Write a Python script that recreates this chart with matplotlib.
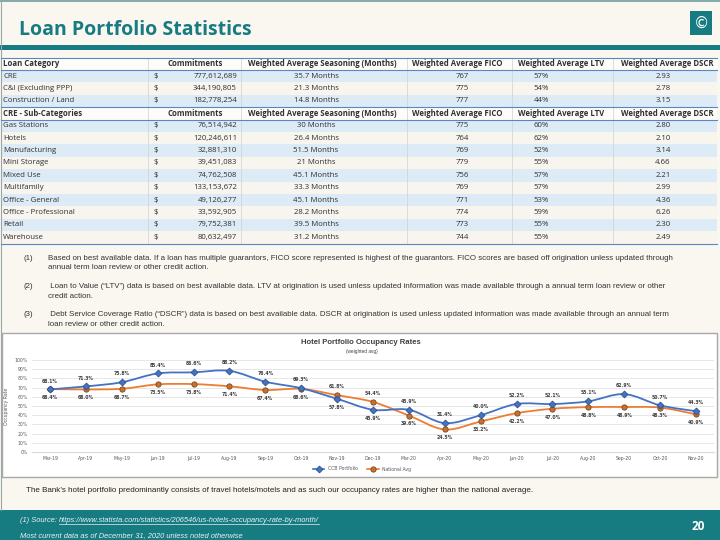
import matplotlib
matplotlib.use('Agg')
import numpy as np
import matplotlib.pyplot as plt
from matplotlib.patches import Rectangle, PathPatch
from matplotlib.lines import Line2D
from matplotlib.path import Path

# ---- table data ----
cat_header = ["Loan Category", "Commitments", "Weighted Average Seasoning (Months)",
              "Weighted Average FICO", "Weighted Average LTV", "Weighted Average DSCR"]
sub_header = ["CRE - Sub-Categories"] + cat_header[1:]

categories = ["CRE", "C&I (Excluding PPP)", "Construction / Land"]
cat_commit = [777612689, 344190805, 182778254]
cat_season = ["35.7 Months", "21.3 Months", "14.8 Months"]
cat_fico = [767, 775, 777]
cat_ltv = [57, 54, 44]
cat_dscr = [2.93, 2.78, 3.15]

subcats = ["Gas Stations", "Hotels", "Manufacturing", "Mini Storage", "Mixed Use",
           "Multifamily", "Office - General", "Office - Professional", "Retail", "Warehouse"]
sub_commit = [76514942, 120246611, 32881310, 39451083, 74762508,
              133153672, 49126277, 33592905, 79752381, 80632497]
sub_season = ["30 Months", "26.4 Months", "51.5 Months", "21 Months", "45.1 Months",
              "33.3 Months", "45.1 Months", "28.2 Months", "39.5 Months", "31.2 Months"]
sub_fico = [775, 764, 769, 779, 756, 769, 771, 774, 773, 744]
sub_ltv = [60, 62, 52, 55, 57, 57, 53, 59, 55, 55]
sub_dscr = [2.80, 2.10, 3.14, 4.66, 2.21, 2.99, 4.36, 6.26, 2.30, 2.49]

# ---- chart data ----
months = ["Mar-19", "Apr-19", "May-19", "Jun-19", "Jul-19", "Aug-19", "Sep-19", "Oct-19",
          "Nov-19", "Dec-19", "Mar-20", "Apr-20", "May-20", "Jun-20", "Jul-20", "Aug-20",
          "Sep-20", "Oct-20", "Nov-20"]
ccb = [68.1, 71.3, 75.8, 85.4, 86.6, 88.2, 76.4, 69.3, 57.8, 45.9, 45.9, 31.4, 40.0,
       52.2, 52.1, 55.1, 62.9, 50.7, 44.3]
national = [68.4, 68.0, 68.7, 73.5, 73.8, 71.4, 67.4, 68.6, 61.8, 54.4, 39.6, 24.5, 33.2,
            42.2, 47.0, 48.8, 48.9, 48.3, 40.9]

footnotes = [
    ("(1)", "Based on best available data. If a loan has multiple guarantors, FICO score represented is highest of the guarantors. FICO scores are based off origination unless updated through",
     "annual term loan review or other credit action."),
    ("(2)", " Loan to Value (\u201cLTV\u201d) data is based on best available data. LTV at origination is used unless updated information was made available through a annual term loan review or other",
     "credit action."),
    ("(3)", " Debt Service Coverage Ratio (\u201cDSCR\u201d) data is based on best available data. DSCR at origination is used unless updated information was made available through an annual term",
     "loan review or other credit action."),
]

TEAL = '#177B82'
BG = '#FAF7F1'
W, H = 720.0, 540.0


def fx(x):
    return x / W


def fy(y):
    return 1 - y / H


def rect(fig, x0, y0, x1, y1, **kw):
    fig.add_artist(Rectangle((fx(x0), fy(y1)), (x1 - x0) / W, (y1 - y0) / H,
                             transform=fig.transFigure, **kw))


def hline(fig, x0, x1, y, **kw):
    fig.add_artist(Line2D([fx(x0), fx(x1)], [fy(y), fy(y)], transform=fig.transFigure, **kw))


def vline(fig, x, y0, y1, **kw):
    fig.add_artist(Line2D([fx(x), fx(x)], [fy(y0), fy(y1)], transform=fig.transFigure, **kw))


def smooth_path(xs, ys):
    # Excel-style smoothed line: cubic bezier segments through the points
    pts = np.column_stack([xs, ys]).astype(float)
    n = len(pts)
    verts = [pts[0]]
    codes = [Path.MOVETO]
    for i in range(n - 1):
        p0 = pts[max(i - 1, 0)]
        p1 = pts[i]
        p2 = pts[i + 1]
        p3 = pts[min(i + 2, n - 1)]
        c1 = p1 + (p2 - p0) / 6.0
        c2 = p2 - (p3 - p1) / 6.0
        verts += [c1, c2, p2]
        codes += [Path.CURVE4] * 3
    return Path(verts, codes)


fig = plt.figure(figsize=(7.2, 5.4), dpi=100)
fig.patch.set_facecolor(BG)

# header
hline(fig, 0, 720, 0.5, color='#6E9C9E', lw=1.2)
vline(fig, 0.6, 0, 510, color='#9AA7A7', lw=0.8)
fig.text(fx(19), fy(30), "Loan Portfolio Statistics", fontsize=14, fontweight='bold',
         color=TEAL, family='Open Sans', va='center', ha='left')
rect(fig, 690, 11, 712, 35, facecolor=TEAL, edgecolor='none')
fig.text(fx(701), fy(23), "\u00a9", fontsize=11, color='white', ha='center', va='center')
rect(fig, 0, 45, 720, 50, facecolor=TEAL, edgecolor='none')

# ---- table ----
top, rh = 57.5, 12.4
tfont = dict(family='Open Sans', fontsize=5.6, color='#303030')
val_x = [3, 237, 316, 462, 541, 663]
head_x = [3, 195, 322, 457, 561, 667]
seps = [148, 241, 407, 512, 613]
rows = [("head", cat_header)]
for i in range(len(categories)):
    rows.append(("data", [categories[i], cat_commit[i], cat_season[i], cat_fico[i], cat_ltv[i], cat_dscr[i]]))
rows.append(("head", sub_header))
for i in range(len(subcats)):
    rows.append(("data", [subcats[i], sub_commit[i], sub_season[i], sub_fico[i], sub_ltv[i], sub_dscr[i]]))

k = 0
for r, (kind, vals) in enumerate(rows):
    y0 = top + r * rh
    yc = y0 + rh / 2
    if kind == "head":
        rect(fig, 1, y0, 717, y0 + rh, facecolor='#FDFCF9', edgecolor='none')
        fig.text(fx(head_x[0]), fy(yc), vals[0], ha='left', va='center', fontweight='bold', **tfont)
        for j in range(1, 6):
            fig.text(fx(head_x[j]), fy(yc), vals[j], ha='center', va='center', fontweight='bold', **tfont)
        k = 0
    else:
        rect(fig, 1, y0, 717, y0 + rh, facecolor='#DDEBF7' if k % 2 == 0 else '#F8F5EF', edgecolor='none')
        k += 1
        fig.text(fx(val_x[0]), fy(yc), vals[0], ha='left', va='center', **tfont)
        fig.text(fx(153), fy(yc), "$", ha='left', va='center', **tfont)
        fig.text(fx(val_x[1]), fy(yc), f"{vals[1]:,}", ha='right', va='center', **tfont)
        fig.text(fx(val_x[2]), fy(yc), vals[2], ha='center', va='center', **tfont)
        fig.text(fx(val_x[3]), fy(yc), str(vals[3]), ha='center', va='center', **tfont)
        fig.text(fx(val_x[4]), fy(yc), f"{vals[4]}%", ha='center', va='center', **tfont)
        fig.text(fx(val_x[5]), fy(yc), f"{vals[5]:.2f}", ha='center', va='center', **tfont)

nrows = len(rows)
for s in seps:
    vline(fig, s, top, top + nrows * rh, color='#D0D0D0', lw=0.5)
for r in [0, 1, 4, 5, nrows]:
    hline(fig, 1, 717, top + r * rh, color='#5B87C0', lw=0.8)

# ---- footnotes ----
ffont = dict(family='Liberation Sans', fontsize=5.7, color='#333333')
for n, (num, l1, l2) in enumerate(footnotes):
    y = 258 + n * 28
    fig.text(fx(23), fy(y), num, ha='left', va='center', **ffont)
    fig.text(fx(48), fy(y), l1, ha='left', va='center', **ffont)
    fig.text(fx(48), fy(y + 10), l2, ha='left', va='center', **ffont)

# ---- chart ----
rect(fig, 1.5, 333, 717, 477, facecolor='white', edgecolor='#A8A8A8', lw=1.0, zorder=-1)
ax = fig.add_axes([fx(32), fy(452), (714 - 32) / W, (452 - 360) / H])
ax.set_zorder(5)
ax.set_facecolor('none')
x = np.arange(len(months))
blue, orange = '#4472C4', '#ED7D31'
ax.add_patch(PathPatch(smooth_path(x, ccb), fill=False, edgecolor=blue, lw=1.3, zorder=4))
ax.add_patch(PathPatch(smooth_path(x, national), fill=False, edgecolor=orange, lw=1.3, zorder=3))
ax.plot(x, ccb, ls='none', marker='D', ms=3.5, mfc=blue, mec='#2F528F', mew=0.6, zorder=5)
ax.plot(x, national, ls='none', marker='o', ms=3.8, mfc='#C9702E', mec='#7A4A22', mew=0.6, zorder=4)
ax.set_xlim(-0.5, len(months) - 0.5)
ax.set_ylim(0, 100)
ax.set_yticks(np.arange(0, 101, 10))
ax.set_yticklabels([f"{v}%" for v in range(0, 101, 10)])
ax.set_xticks(x)
ax.set_xticklabels(months)
ax.tick_params(length=0, labelsize=3.3, colors='#595959', pad=3)
ax.grid(axis='y', color='#E3E3E3', lw=0.6)
ax.set_axisbelow(True)
for s in ax.spines.values():
    s.set_visible(False)
ax.spines['bottom'].set_visible(True)
ax.spines['bottom'].set_color('#D9D9D9')
ax.set_ylabel("Occupancy Rate", fontsize=3.3, color='#595959', labelpad=4)

lab = dict(fontsize=3.3, fontweight='bold', color='#404040', ha='center', va='center')
for i in range(len(months)):
    up = national[i] <= ccb[i] + 1
    ax.annotate(f"{ccb[i]:.1f}%", (x[i], ccb[i]), xytext=(0, 6 if up else -6),
                textcoords='offset points', **lab)
    ax.annotate(f"{national[i]:.1f}%", (x[i], national[i]), xytext=(0, -6 if up else 6),
                textcoords='offset points', **lab)

fig.text(fx(361), fy(342), "Hotel Portfolio Occupancy Rates", ha='center', va='center',
         fontsize=5.6, fontweight='bold', color='#404040', family='Liberation Sans')
fig.text(fx(362), fy(351), "(weighted avg)", ha='center', va='center',
         fontsize=3.4, color='#404040', family='Liberation Sans')
handles = [Line2D([], [], color=blue, lw=1.2, marker='D', ms=3.5, mfc=blue, mec='#2F528F', mew=0.6),
           Line2D([], [], color=orange, lw=1.2, marker='o', ms=3.8, mfc='#C9702E', mec='#7A4A22', mew=0.6)]
fig.legend(handles, ['CCB Portfolio', 'National Avg'], loc='center', bbox_to_anchor=(fx(362), fy(469)),
           ncol=2, frameon=False, fontsize=3.3, handlelength=2.5, columnspacing=2, labelcolor='#595959')

fig.text(fx(26), fy(491), "The Bank\u2019s hotel portfolio predominantly consists of travel hotels/motels and as such our occupancy rates are higher than the national average.",
         ha='left', va='center', family='Liberation Sans', fontsize=5.8, color='#222222')

# ---- footer ----
rect(fig, 0, 510, 720, 540, facecolor=TEAL, edgecolor='none')
ft = dict(family='Liberation Sans', fontsize=5.4, style='italic', color='#E8F2F2', va='center')
t0 = fig.text(fx(20), fy(521), "(1) Source: ", ha='left', **ft)
fig.canvas.draw()
bb = t0.get_window_extent()
url = fig.text(bb.x1 / W, fy(521), "https://www.statista.com/statistics/206546/us-hotels-occupancy-rate-by-month/",
               ha='left', **ft)
fig.canvas.draw()
ub = url.get_window_extent()
fig.add_artist(Line2D([ub.x0 / W, ub.x1 / W], [ub.y0 / H + 0.001, ub.y0 / H + 0.001],
                      transform=fig.transFigure, color='#E8F2F2', lw=0.5))
fig.text(fx(20), fy(536), "Most current data as of December 31, 2020 unless noted otherwise", ha='left', **ft)
fig.text(fx(698), fy(527), "20", ha='center', va='center', fontsize=8.5, fontweight='bold',
         color='white', family='Open Sans')

fig.savefig('out.png', dpi=100, facecolor=BG)
